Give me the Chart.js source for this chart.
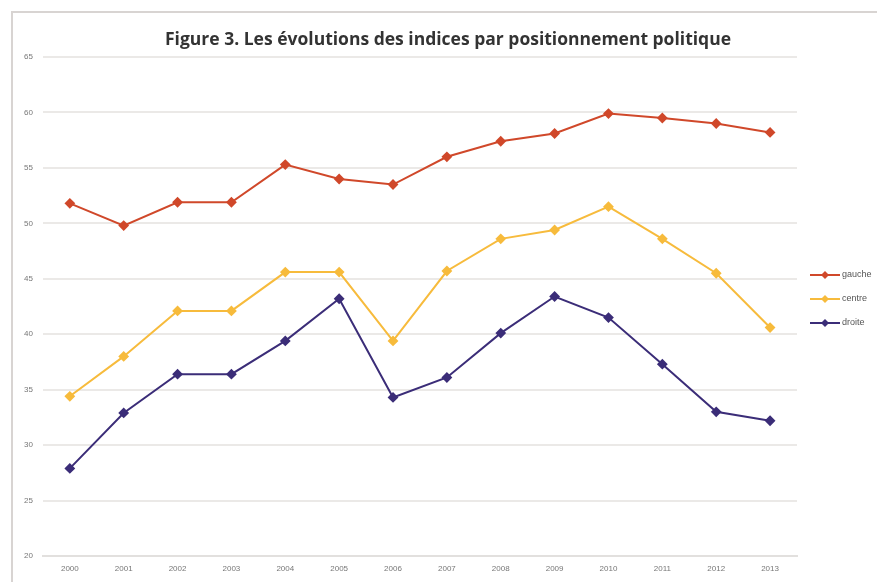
<!DOCTYPE html>
<html>
  <head>
    <title>Figure 3</title>
    <script src="https://cdn.jsdelivr.net/npm/chart.js"></script>
    <style>
      body { margin: 0; background: #fff; }
    </style>
  </head>
  <body>
    <canvas id="myChart" width="877" height="582"></canvas>

    <script>
      // approximate
      const years = ["2000", "2001", "2002", "2003", "2004", "2005", "2006",
                     "2007", "2008", "2009", "2010", "2011", "2012", "2013"];
      const gauche = [51.8, 49.8, 51.9, 51.9, 55.3, 54.0, 53.5, 56.0, 57.4, 58.1, 59.9, 59.5, 59.0, 58.2];
      const centre = [34.4, 38.0, 42.1, 42.1, 45.6, 45.6, 39.4, 45.7, 48.6, 49.4, 51.5, 48.6, 45.5, 40.6];
      const droite = [27.9, 32.9, 36.4, 36.4, 39.4, 43.2, 34.3, 36.1, 40.1, 43.4, 41.5, 37.3, 33.0, 32.2];
      const seriesNames = ["gauche", "centre", "droite"];
      const seriesColors = ["#d0482a", "#f7bb3c", "#3b2d78"];
      const chartTitle = "Figure 3. Les évolutions des indices par positionnement politique";

      // frame, title and small legend on the right
      const framePlugin = {
        id: "frame",
        beforeDraw(chart) {
          const c = chart.ctx;
          c.save();
          c.strokeStyle = "#d8d4d2";
          c.lineWidth = 2;
          c.beginPath();
          c.moveTo(12, 582);
          c.lineTo(12, 12);
          c.lineTo(877, 12);
          c.stroke();
          c.restore();
        },
        afterDraw(chart) {
          const c = chart.ctx;
          c.save();
          c.font = "bold 17.5px 'Open Sans', sans-serif";
          c.fillStyle = "#333";
          c.textAlign = "center";
          c.textBaseline = "middle";
          c.fillText(chartTitle, 448, 40);

          c.textAlign = "left";
          c.font = "9px 'Liberation Sans', sans-serif";
          chart.data.datasets.forEach((ds, i) => {
            const y = 275 + i * 24;
            c.strokeStyle = ds.borderColor;
            c.lineWidth = 2;
            c.beginPath();
            c.moveTo(810, y);
            c.lineTo(840, y);
            c.stroke();
            c.fillStyle = ds.borderColor;
            c.beginPath();
            c.moveTo(825, y - 4);
            c.lineTo(829, y);
            c.lineTo(825, y + 4);
            c.lineTo(821, y);
            c.closePath();
            c.fill();
            c.fillStyle = "#555";
            c.fillText(ds.label, 842, y);
          });
          c.restore();
        }
      };

      const ctx = document.getElementById("myChart").getContext("2d");

      const myChart = new Chart(ctx, {
        type: "line",
        data: {
          labels: years,
          datasets: [gauche, centre, droite].map((vals, i) => ({
            label: seriesNames[i],
            data: vals,
            borderColor: seriesColors[i],
            backgroundColor: seriesColors[i],
            borderWidth: 2,
            pointStyle: "rectRot",
            pointRadius: 4,
            tension: 0
          }))
        },
        options: {
          responsive: false,
          animation: false,
          layout: { padding: { left: 14, right: 80, top: 57, bottom: 0 } },
          plugins: {
            legend: { display: false },
            title: { display: false },
            tooltip: { enabled: false }
          },
          scales: {
            x: {
              offset: true,
              afterFit(scale) { scale.height = 26; },
              grid: { display: false, drawTicks: false },
              border: { color: "#e2e0de", width: 2 },
              ticks: {
                color: "#777",
                padding: 8,
                maxRotation: 0,
                font: { family: "'Liberation Sans', sans-serif", size: 8 }
              }
            },
            y: {
              min: 20,
              max: 65,
              grid: { color: "#ebe9e7", lineWidth: 2, drawTicks: false },
              border: { display: false },
              ticks: {
                stepSize: 5,
                color: "#777",
                padding: 10,
                font: { family: "'Liberation Sans', sans-serif", size: 8 }
              }
            }
          }
        },
        plugins: [framePlugin]
      });
    </script>
  </body>
</html>
